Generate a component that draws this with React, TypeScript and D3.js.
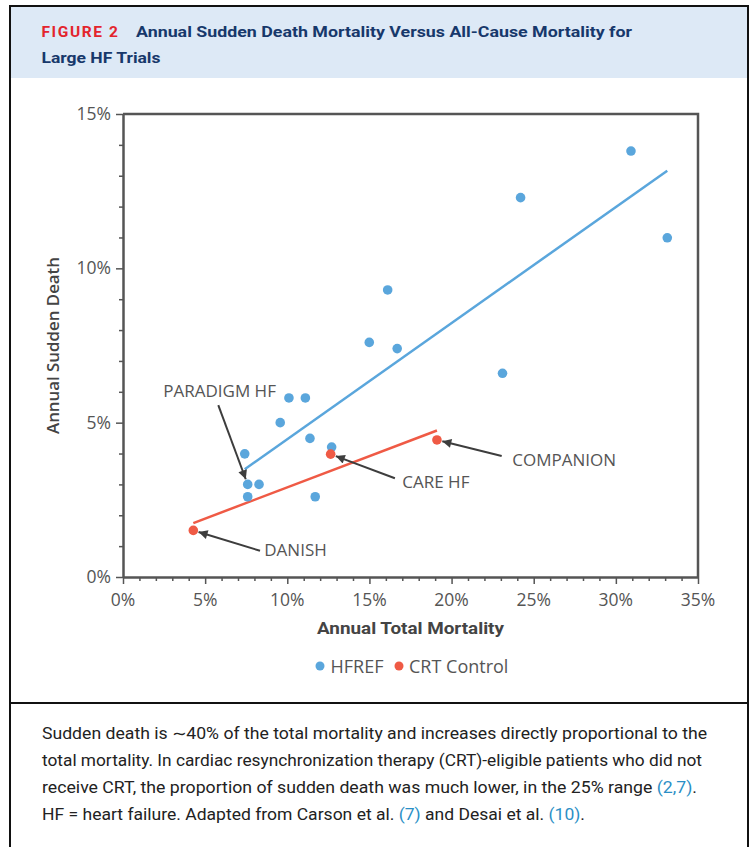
import React, { useRef, useEffect } from "react";
import * as d3 from "d3";

// values (percent per year)
const hfrefTotal = [30.92, 24.2, 33.13, 16.11, 14.99, 16.69, 23.1, 10.1, 11.1, 9.57, 11.38, 7.41, 12.7, 7.59, 8.28, 7.59, 11.7];
const hfrefSudden = [13.8, 12.29, 10.99, 9.3, 7.6, 7.4, 6.6, 5.8, 5.8, 5.0, 4.49, 3.99, 4.21, 3.0, 3.0, 2.6, 2.6];

const crtTotal = [4.28, 12.64, 19.11];
const crtSudden = [1.51, 3.98, 4.44];

const xTicks = [0, 5, 10, 15, 20, 25, 30, 35];
const yTicks = [0, 5, 10, 15];

// label, target point [total, sudden], arrow tail [total, sudden], label anchor [total, sudden]
const annLabels = ["PARADIGM HF", "CARE HF", "COMPANION", "DANISH"];
const annTargets = [[7.59, 3.0], [12.64, 3.98], [19.11, 4.44], [4.28, 1.51]];
const annTails = [[5.8, 5.57], [16.55, 3.2], [23.05, 3.92], [8.34, 0.85]];
const annText = [[2.45, 5.84], [17.0, 2.88], [23.7, 3.6], [8.6, 0.68]];

const legendLabels = ["HFREF", "CRT Control"];

const BLUE = "#5aa6dc";
const RED = "#ef5a45";
const GREY = "#555";

const captionLines = [
  [["Sudden death is \u223c40% of the total mortality and increases directly proportional to the", false]],
  [["total mortality. In cardiac resynchronization therapy (CRT)-eligible patients who did not", false]],
  [["receive CRT, the proportion of sudden death was much lower, in the 25% range ", false], ["(2,7)", true], [".", false]],
  [["HF = heart failure. Adapted from Carson et al. ", false], ["(7)", true], [" and Desai et al. ", false], ["(10)", true], [".", false]],
] as [string, boolean][][];
const captionWidths = [665, 660, 655, 543];

const fit = (xs: number[], ys: number[]) => {
  const mx = d3.mean(xs)!;
  const my = d3.mean(ys)!;
  const sxy = d3.sum(xs, (x, i) => (x - mx) * (ys[i] - my));
  const sxx = d3.sum(xs, (x) => (x - mx) * (x - mx));
  const b = sxy / sxx;
  const a = my - b * mx;
  const ext = d3.extent(xs) as [number, number];
  return ext.map((x) => [x, a + b * x]);
};

const Chart = () => {
  const svgRef = useRef<SVGSVGElement>(null);

  useEffect(() => {
    const svg = d3.select(svgRef.current);
    svg.selectAll("*").remove();

    const x = d3.scaleLinear().domain([0, 35]).range([123, 698]);
    const y = d3.scaleLinear().domain([0, 15]).range([577, 114]);

    // header + frame
    svg.append("rect").attr("x", 11).attr("y", 7).attr("width", 736).attr("height", 71).attr("fill", "#dde9f6");
    svg.append("rect").attr("x", 10).attr("y", 6).attr("width", 738).attr("height", 850)
      .attr("fill", "none").attr("stroke", "#111").attr("stroke-width", 2);
    svg.append("line").attr("x1", 10).attr("x2", 748).attr("y1", 703).attr("y2", 703)
      .attr("stroke", "#111").attr("stroke-width", 2);

    const t1 = svg.append("text").attr("x", 41.5).attr("y", 37)
      .style("font-family", "Roboto").style("font-weight", 700).style("font-size", "15.5px");
    t1.append("tspan").attr("fill", "#e3242d").style("letter-spacing", "1.6px").text("FIGURE 2");
    t1.append("tspan").attr("x", 136).attr("fill", "#17386b")
      .attr("textLength", 496).attr("lengthAdjust", "spacingAndGlyphs")
      .text("Annual Sudden Death Mortality Versus All-Cause Mortality for");
    svg.append("text").attr("x", 41.5).attr("y", 62.5).attr("fill", "#17386b")
      .style("font-family", "Roboto").style("font-weight", 700).style("font-size", "15.5px")
      .attr("textLength", 119).attr("lengthAdjust", "spacingAndGlyphs")
      .text("Large HF Trials");

    // axes
    const g = svg.append("g");
    const xAxis = d3.axisBottom(x).tickValues(d3.range(0, 36, 1)).tickSize(4).tickFormat(() => "").tickSizeOuter(0);
    const gx = g.append("g").attr("transform", `translate(0,${y(0)})`).call(xAxis);
    gx.selectAll(".tick line").attr("stroke", GREY).attr("stroke-width", 1.5)
      .attr("y2", (d: any) => (d % 5 === 0 ? 7 : 4));
    gx.select(".domain").attr("stroke", GREY).attr("stroke-width", 2.5);

    const yAxis = d3.axisLeft(y).tickValues(d3.range(0, 16, 1)).tickSize(4).tickFormat(() => "").tickSizeOuter(0);
    const gy = g.append("g").attr("transform", `translate(${x(0)},0)`).call(yAxis);
    gy.selectAll(".tick line").attr("stroke", GREY).attr("stroke-width", 1.5)
      .attr("x2", (d: any) => (d % 5 === 0 ? -7 : -4));
    gy.select(".domain").attr("stroke", GREY).attr("stroke-width", 2.5);

    g.append("path")
      .attr("d", `M${x(0)},${y(15)}H${x(35)}V${y(0)}`)
      .attr("fill", "none").attr("stroke", GREY).attr("stroke-width", 2.5);

    const labelStyle = (s: any) => s.style("font-family", "Open Sans").style("font-size", "17.5px").attr("fill", GREY);

    g.selectAll(".xl").data(xTicks).join("text").attr("class", "xl")
      .attr("x", (d) => x(d)).attr("y", 605.5).attr("text-anchor", "middle")
      .call(labelStyle).text((d) => `${d}%`);
    g.selectAll(".yl").data(yTicks).join("text").attr("class", "yl")
      .attr("x", 111).attr("y", (d) => y(d) + 6).attr("text-anchor", "end")
      .call(labelStyle).text((d) => `${d}%`);

    g.append("text").attr("x", (x(0) + x(35)) / 2).attr("y", 634).attr("text-anchor", "middle")
      .style("font-family", "Roboto").style("font-weight", 700).style("font-size", "16.5px")
      .attr("fill", "#444").attr("textLength", 187).attr("lengthAdjust", "spacingAndGlyphs")
      .text("Annual Total Mortality");
    g.append("text").attr("transform", `translate(59,${(y(0) + y(15)) / 2}) rotate(-90)`)
      .attr("text-anchor", "middle")
      .style("font-family", "Open Sans").style("font-weight", 600).style("font-size", "16.5px")
      .attr("fill", "#444").attr("textLength", 177).attr("lengthAdjust", "spacingAndGlyphs")
      .text("Annual Sudden Death");

    // trend lines
    const line = d3.line().x((d) => x(d[0])).y((d) => y(d[1]));
    g.append("path").attr("d", line(fit(hfrefTotal, hfrefSudden) as any))
      .attr("fill", "none").attr("stroke", BLUE).attr("stroke-width", 2.5);
    g.append("path").attr("d", line(fit(crtTotal, crtSudden) as any))
      .attr("fill", "none").attr("stroke", RED).attr("stroke-width", 2.5);

    // points
    g.selectAll(".hf").data(hfrefTotal).join("circle").attr("class", "hf")
      .attr("cx", (d) => x(d)).attr("cy", (d, i) => y(hfrefSudden[i])).attr("r", 4.8).attr("fill", BLUE);
    g.selectAll(".crt").data(crtTotal).join("circle").attr("class", "crt")
      .attr("cx", (d) => x(d)).attr("cy", (d, i) => y(crtSudden[i])).attr("r", 4.8).attr("fill", RED);

    // annotations
    svg.append("defs").append("marker").attr("id", "arr")
      .attr("viewBox", "0 0 10 10").attr("refX", 10).attr("refY", 5)
      .attr("markerWidth", 12).attr("markerHeight", 9).attr("markerUnits", "userSpaceOnUse")
      .attr("orient", "auto")
      .append("path").attr("d", "M0,0L10,5L0,10Z").attr("fill", "#3d3d3d");

    annLabels.forEach((lab, i) => {
      const tx = x(annTails[i][0]);
      const ty = y(annTails[i][1]);
      const px = x(annTargets[i][0]);
      const py = y(annTargets[i][1]);
      const len = Math.hypot(px - tx, py - ty);
      const k = (len - 5.5) / len;
      g.append("line").attr("x1", tx).attr("y1", ty)
        .attr("x2", tx + (px - tx) * k).attr("y2", ty + (py - ty) * k)
        .attr("stroke", "#3d3d3d").attr("stroke-width", 2).attr("marker-end", "url(#arr)");
      g.append("text").attr("x", x(annText[i][0])).attr("y", y(annText[i][1]))
        .style("font-family", "Open Sans").style("font-size", "17px").attr("fill", GREY)
        .text(lab);
    });

    // legend
    const lg = svg.append("g").attr("transform", "translate(320,666)");
    lg.append("circle").attr("cx", 0).attr("cy", 0).attr("r", 4.5).attr("fill", BLUE);
    lg.append("text").attr("x", 10.5).attr("y", 6.5).call(labelStyle).style("font-size", "18px").text(legendLabels[0]);
    lg.append("circle").attr("cx", 79).attr("cy", 0).attr("r", 4.5).attr("fill", RED);
    lg.append("text").attr("x", 89).attr("y", 6.5).call(labelStyle).style("font-size", "18px").text(legendLabels[1]);

    // caption
    captionLines.forEach((parts, i) => {
      const t = svg.append("text").attr("x", 42).attr("y", 739 + i * 27)
        .style("font-family", "Roboto").style("font-size", "16px").attr("fill", "#222")
        .attr("textLength", captionWidths[i]).attr("lengthAdjust", "spacingAndGlyphs");
      parts.forEach(([s, link]) => {
        t.append("tspan").attr("fill", link ? "#2b8fc6" : "#222").text(s);
      });
    });
  }, []);

  return <svg ref={svgRef} width={756} height={847} style={{ position: "absolute", left: 0, top: 0, background: "#fff" }} />;
};

export default function App() {
  return <Chart />;
}
